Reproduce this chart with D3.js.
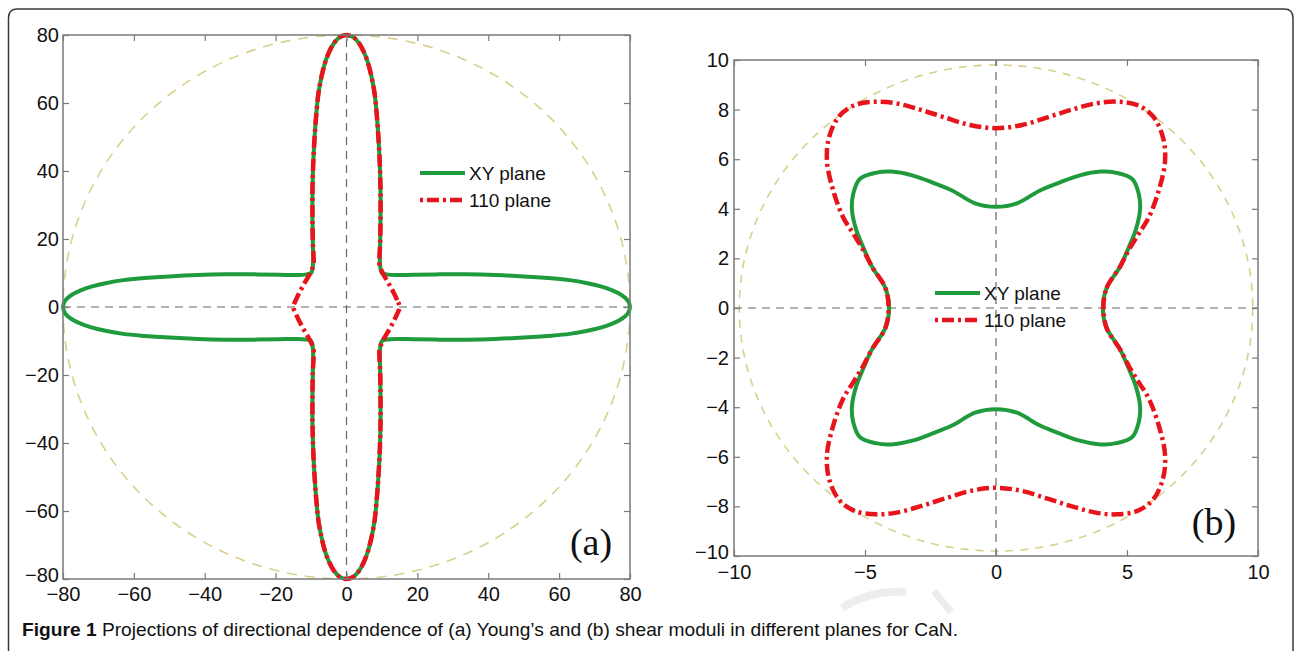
<!DOCTYPE html>
<html>
<head>
<meta charset="utf-8">
<script src="https://cdn.jsdelivr.net/npm/d3@7"></script>
<style>
  body { margin: 0; background: #fff; }
  svg { display: block; }
</style>
</head>
<body>
<div id="chart"></div>
<script>
//(a) Young's modulus [x, y]
const youngXY = [
  [80,0],[79.3,2],[77.5,3.6],[75,4.9],[72,6],[68,7],[63,7.9],[57,8.5],[50,9],[42,9.4],[34,9.6],[26,9.6],[19,9.5],[14,9.4],[11.3,9.6],[10,10],
  [9.6,11.3],[9.4,14],[9.5,19],[9.6,26],[9.6,34],[9.4,42],[9,50],[8.5,57],[7.9,63],[7,68],[6,72],[4.9,75],[3.6,77.5],[2,79.3],
  [0,80],[-2,79.3],[-3.6,77.5],[-4.9,75],[-6,72],[-7,68],[-7.9,63],[-8.5,57],[-9,50],[-9.4,42],[-9.6,34],[-9.6,26],[-9.5,19],[-9.4,14],[-9.6,11.3],[-10,10],
  [-11.3,9.6],[-14,9.4],[-19,9.5],[-26,9.6],[-34,9.6],[-42,9.4],[-50,9],[-57,8.5],[-63,7.9],[-68,7],[-72,6],[-75,4.9],[-77.5,3.6],[-79.3,2],
  [-80,0],[-79.3,-2],[-77.5,-3.6],[-75,-4.9],[-72,-6],[-68,-7],[-63,-7.9],[-57,-8.5],[-50,-9],[-42,-9.4],[-34,-9.6],[-26,-9.6],[-19,-9.5],[-14,-9.4],[-11.3,-9.6],[-10,-10],
  [-9.6,-11.3],[-9.4,-14],[-9.5,-19],[-9.6,-26],[-9.6,-34],[-9.4,-42],[-9,-50],[-8.5,-57],[-7.9,-63],[-7,-68],[-6,-72],[-4.9,-75],[-3.6,-77.5],[-2,-79.3],
  [0,-80],[2,-79.3],[3.6,-77.5],[4.9,-75],[6,-72],[7,-68],[7.9,-63],[8.5,-57],[9,-50],[9.4,-42],[9.6,-34],[9.6,-26],[9.5,-19],[9.4,-14],[9.6,-11.3],[10,-10],
  [11.3,-9.6],[14,-9.4],[19,-9.5],[26,-9.6],[34,-9.6],[42,-9.4],[50,-9],[57,-8.5],[63,-7.9],[68,-7],[72,-6],[75,-4.9],[77.5,-3.6],[79.3,-2]
];

const young110 = [
  [15,0],[14.3,2],[13.4,4],[12.4,6],[11.3,8],[10.2,10],[9.3,12.5],[9.3,15],[9.5,19],[9.6,26],[9.6,34],[9.4,42],[9,50],[8.5,57],[7.9,63],[7,68],[6,72],[4.9,75],[3.6,77.5],[2,79.3],
  [0,80],[-2,79.3],[-3.6,77.5],[-4.9,75],[-6,72],[-7,68],[-7.9,63],[-8.5,57],[-9,50],[-9.4,42],[-9.6,34],[-9.6,26],[-9.5,19],[-9.3,15],[-9.3,12.5],[-10.2,10],[-11.3,8],[-12.4,6],[-13.4,4],[-14.3,2],
  [-15,0],[-14.3,-2],[-13.4,-4],[-12.4,-6],[-11.3,-8],[-10.2,-10],[-9.3,-12.5],[-9.3,-15],[-9.5,-19],[-9.6,-26],[-9.6,-34],[-9.4,-42],[-9,-50],[-8.5,-57],[-7.9,-63],[-7,-68],[-6,-72],[-4.9,-75],[-3.6,-77.5],[-2,-79.3],
  [0,-80],[2,-79.3],[3.6,-77.5],[4.9,-75],[6,-72],[7,-68],[7.9,-63],[8.5,-57],[9,-50],[9.4,-42],[9.6,-34],[9.6,-26],[9.5,-19],[9.3,-15],[9.3,-12.5],[10.2,-10],[11.3,-8],[12.4,-6],[13.4,-4],[14.3,-2]
];

//(b) shear modulus
const shearXY = [
  [4.08,0],[4.22,0.8],[4.73,1.66],[5.05,2.4],[5.35,3.2],[5.5,4.0],[5.45,4.6],[5.2,5.2],[4.6,5.45],[4.0,5.5],[3.2,5.35],[2.4,5.05],[1.66,4.73],[0.8,4.22],
  [0,4.08],[-0.8,4.22],[-1.66,4.73],[-2.4,5.05],[-3.2,5.35],[-4.0,5.5],[-4.6,5.45],[-5.2,5.2],[-5.45,4.6],[-5.5,4.0],[-5.35,3.2],[-5.05,2.4],[-4.73,1.66],[-4.22,0.8],
  [-4.08,0],[-4.22,-0.8],[-4.73,-1.66],[-5.05,-2.4],[-5.35,-3.2],[-5.5,-4.0],[-5.45,-4.6],[-5.2,-5.2],[-4.6,-5.45],[-4.0,-5.5],[-3.2,-5.35],[-2.4,-5.05],[-1.66,-4.73],[-0.8,-4.22],
  [0,-4.08],[0.8,-4.22],[1.66,-4.73],[2.4,-5.05],[3.2,-5.35],[4.0,-5.5],[4.6,-5.45],[5.2,-5.2],[5.45,-4.6],[5.5,-4.0],[5.35,-3.2],[5.05,-2.4],[4.73,-1.66],[4.22,-0.8]
];

const shear110 = [
  [4.1,0],[4.22,0.8],[4.73,1.66],[5.07,2.34],[5.45,3.0],[5.84,3.67],[6.23,4.8],[6.45,5.9],[6.38,6.85],[6.0,7.72],[5.4,8.18],[4.6,8.32],[3.8,8.25],[2.9,8.0],[2.0,7.7],[1.0,7.38],
  [0,7.25],[-1.0,7.38],[-2.0,7.7],[-2.9,8.0],[-3.8,8.25],[-4.6,8.32],[-5.4,8.18],[-6.0,7.72],[-6.38,6.85],[-6.45,5.9],[-6.23,4.8],[-5.84,3.67],[-5.45,3.0],[-5.07,2.34],[-4.73,1.66],[-4.22,0.8],
  [-4.1,0],[-4.22,-0.8],[-4.73,-1.66],[-5.07,-2.34],[-5.45,-3.0],[-5.84,-3.67],[-6.23,-4.8],[-6.45,-5.9],[-6.38,-6.85],[-6.0,-7.72],[-5.4,-8.18],[-4.6,-8.32],[-3.8,-8.25],[-2.9,-8.0],[-2.0,-7.7],[-1.0,-7.38],
  [0,-7.25],[1.0,-7.38],[2.0,-7.7],[2.9,-8.0],[3.8,-8.25],[4.6,-8.32],[5.4,-8.18],[6.0,-7.72],[6.38,-6.85],[6.45,-5.9],[6.23,-4.8],[5.84,-3.67],[5.45,-3.0],[5.07,-2.34],[4.73,-1.66],[4.22,-0.8]
];

//reference circle radius for each panel
const refRadius = [80, 9.8];

//ticks
const ticksA = [-80, -60, -40, -20, 0, 20, 40, 60, 80];
const ticksBx = [-10, -5, 0, 5, 10];
const ticksBy = [-10, -8, -6, -4, -2, 0, 2, 4, 6, 8, 10];

const seriesNames = ["XY plane", "110 plane"];
const panelLabels = ["(a)", "(b)"];
const captionBold = "Figure 1";
const captionText = " Projections of directional dependence of (a) Young\u2019s and (b) shear moduli in different planes for CaN.";

const green = "#1f9a3c";
const red = "#e8141b";
const redDash = "12,4,3,4";

var svg = d3
  .select("#chart")
  .append("svg")
  .attr("width", 1294)
  .attr("height", 651)
  .style("background-color", "white");

//outer frame (rounded top corners)
svg
  .append("path")
  .attr("d", "M8.5,660 L8.5,18 Q8.5,9 17.5,9 L1284,9 Q1293,9 1293,18 L1293,660")
  .attr("fill", "none")
  .attr("stroke", "#3a3a3a")
  .attr("stroke-width", 1.5);

//faint watermark strokes
svg
  .append("path")
  .attr("d", "M842,608 Q870,590 906,592")
  .attr("fill", "none")
  .attr("stroke", "#ededed")
  .attr("stroke-width", 8);
svg
  .append("path")
  .attr("d", "M934,591 L951,612")
  .attr("fill", "none")
  .attr("stroke", "#ededed")
  .attr("stroke-width", 7);

function drawPanel(p) {
  const x = d3.scaleLinear().domain(p.domain).range([p.left, p.right]);
  const y = d3.scaleLinear().domain(p.domain).range([p.bottom, p.top]);
  const g = svg.append("g");

  //reference circle
  g.append("ellipse")
    .attr("cx", x(0))
    .attr("cy", y(0))
    .attr("rx", x(p.radius) - x(0))
    .attr("ry", y(0) - y(p.radius))
    .attr("fill", "none")
    .attr("stroke", "#d8d08c")
    .attr("stroke-width", 1.6)
    .attr("stroke-dasharray", p.circleDash);

  //center lines
  g.append("line")
    .attr("x1", x(p.domain[0]))
    .attr("x2", x(p.domain[1]))
    .attr("y1", y(0))
    .attr("y2", y(0))
    .attr("stroke", "#666")
    .attr("stroke-width", 1.2)
    .attr("stroke-dasharray", "8,6");
  g.append("line")
    .attr("x1", x(0))
    .attr("x2", x(0))
    .attr("y1", y(p.domain[0]))
    .attr("y2", y(p.domain[1]))
    .attr("stroke", "#666")
    .attr("stroke-width", 1.2)
    .attr("stroke-dasharray", "8,6");

  const line = d3
    .line()
    .x((d) => x(d[0]))
    .y((d) => y(d[1]))
    .curve(d3.curveCatmullRomClosed.alpha(0.5));

  g.append("path")
    .datum(p.xy)
    .attr("d", line)
    .attr("fill", "none")
    .attr("stroke", green)
    .attr("stroke-width", 4)
    .attr("stroke-linejoin", "round");

  g.append("path")
    .datum(p.p110)
    .attr("d", line)
    .attr("fill", "none")
    .attr("stroke", red)
    .attr("stroke-width", 4.5)
    .attr("stroke-dasharray", redDash);

  //box
  g.append("rect")
    .attr("x", p.left)
    .attr("y", p.top)
    .attr("width", p.right - p.left)
    .attr("height", p.bottom - p.top)
    .attr("fill", "none")
    .attr("stroke", "#7a7a7a")
    .attr("stroke-width", 1.5);

  //axes, ticks pointing inside on all sides
  const axes = [
    g.append("g").attr("transform", `translate(0,${p.bottom})`)
      .call(d3.axisBottom(x).tickValues(p.xticks).tickSizeInner(-6).tickSizeOuter(0).tickPadding(p.padB)),
    g.append("g").attr("transform", `translate(${p.left},0)`)
      .call(d3.axisLeft(y).tickValues(p.yticks).tickSizeInner(-6).tickSizeOuter(0).tickPadding(p.padL)),
    g.append("g").attr("transform", `translate(0,${p.top})`)
      .call(d3.axisTop(x).tickValues(p.xticks).tickSizeInner(-6).tickSizeOuter(0).tickFormat("")),
    g.append("g").attr("transform", `translate(${p.right},0)`)
      .call(d3.axisRight(y).tickValues(p.yticks).tickSizeInner(-6).tickSizeOuter(0).tickFormat("")),
  ];
  axes.forEach((a) => {
    a.select(".domain").remove();
    a.selectAll(".tick line").attr("stroke", "#7a7a7a").attr("stroke-width", 1.2);
    a.selectAll(".tick text")
      .attr("fill", "#111")
      .style("font-family", "'Liberation Sans', Arial, sans-serif")
      .style("font-size", "20px");
  });
  //lowest y label sits a little above its tick, as in the original
  axes[1].selectAll(".tick text").filter((d) => d === p.domain[0]).attr("dy", "0.1em");

  //legend
  g.append("line")
    .attr("x1", p.legX)
    .attr("x2", p.legX + 45)
    .attr("y1", p.legY)
    .attr("y2", p.legY)
    .attr("stroke", green)
    .attr("stroke-width", 4);
  g.append("line")
    .attr("x1", p.legX)
    .attr("x2", p.legX + 45)
    .attr("y1", p.legY + 27)
    .attr("y2", p.legY + 27)
    .attr("stroke", red)
    .attr("stroke-width", 4.5)
    .attr("stroke-dasharray", "3,4,12,4");
  seriesNames.forEach((name, i) => {
    g.append("text")
      .attr("x", p.legX + 49)
      .attr("y", p.legY + i * 27 + 7)
      .attr("fill", "#111")
      .style("font-family", "'Liberation Sans', Arial, sans-serif")
      .style("font-size", "19px")
      .text(name);
  });

  //panel label
  g.append("text")
    .attr("x", p.labX)
    .attr("y", p.labY)
    .attr("text-anchor", "middle")
    .attr("fill", "#111")
    .style("font-family", "'Liberation Serif', 'Times New Roman', serif")
    .style("font-size", "38px")
    .text(p.label);
}

drawPanel({
  domain: [-80, 80], left: 63, right: 630, top: 35, bottom: 579,
  xticks: ticksA, yticks: ticksA, padB: 8, padL: 4,
  radius: refRadius[0], circleDash: "10,8",
  xy: youngXY, p110: young110,
  legX: 420, legY: 173, label: panelLabels[0], labX: 591, labY: 555,
});

drawPanel({
  domain: [-10, 10], left: 734, right: 1258, top: 60, bottom: 556,
  xticks: ticksBx, yticks: ticksBy, padB: 9, padL: 5,
  radius: refRadius[1], circleDash: "8,7",
  xy: shearXY, p110: shear110,
  legX: 935, legY: 293, label: panelLabels[1], labX: 1214, labY: 535,
});

//caption
const cap = svg
  .append("text")
  .attr("x", 22)
  .attr("y", 636)
  .attr("fill", "#111")
  .style("font-family", "'Liberation Sans', Arial, sans-serif")
  .style("font-size", "19px");
cap.append("tspan").style("font-weight", "bold").text(captionBold);
cap.append("tspan").text(captionText);
cap.attr("textLength", 936).attr("lengthAdjust", "spacingAndGlyphs");
</script>
</body>
</html>
